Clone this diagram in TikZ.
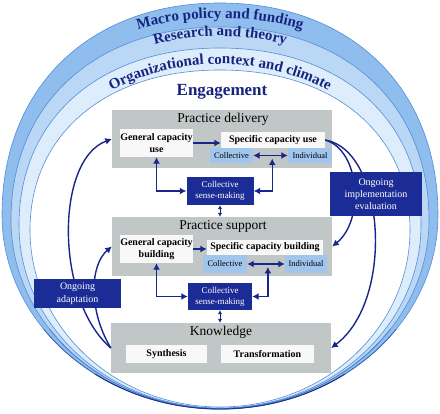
\documentclass[tikz,border=0pt]{standalone}
\usepackage{fontspec}
\setmainfont{Liberation Serif}
\usepackage{xcolor}
\usetikzlibrary{arrows.meta,calc,decorations.text}
\definecolor{ringA}{RGB}{143,189,238}
\definecolor{ringB}{RGB}{186,216,246}
\definecolor{ringC}{RGB}{222,237,252}
\definecolor{ringline}{RGB}{84,140,214}
\definecolor{ringdark}{RGB}{30,50,140}
\definecolor{ringtext}{RGB}{22,36,128}
\definecolor{boxgray}{RGB}{193,199,198}
\definecolor{boxwhite}{RGB}{248,248,248}
\definecolor{tagblue}{RGB}{160,198,238}
\definecolor{navy}{RGB}{28,44,150}
\definecolor{arrownavy}{RGB}{24,38,140}
\newcommand{\ringfont}{\bfseries\fontsize{15}{15}\selectfont}
\tikzset{
	egg/.style n args={4}{insert path={
			(220,#1) .. controls ({220-0.6*#3},#1) and ({220-#3},{#2-0.6*(#2-#1)}) .. ({220-#3},#2)
			.. controls ({220-#3},{#2+0.5523*(#4-#2)}) and ({220-0.5523*#3},#4) .. (220,#4)
			.. controls ({220+0.5523*#3},#4) and ({220+#3},{#2+0.5523*(#4-#2)}) .. ({220+#3},#2)
			.. controls ({220+#3},{#2-0.6*(#2-#1)}) and ({220+0.6*#3},#1) .. (220,#1) -- cycle}},
	ringtextpath/.style={decorate, decoration={text along path, text={|\ringfont|#1},
					text align=center, text color=ringtext}},
	graybox/.style={fill=boxgray, minimum width=220pt, inner sep=0pt},
	boxtitle/.style={font=\fontsize{13.5}{15}\selectfont, anchor=base},
	whitebox/.style={fill=boxwhite, font=\bfseries\fontsize{10}{12.5}\selectfont, align=center, inner sep=0.5pt},
	tagbox/.style={fill=tagblue, font=\fontsize{8.5}{10}\selectfont, inner sep=0.5pt},
	navybox/.style={fill=navy, text=white, align=center, inner sep=1pt},
	conn/.style={draw=arrownavy, line width=1.4pt, >={Latex[length=6.5pt, width=7pt]}},
	shortconn/.style={draw=arrownavy, line width=1pt, >={Latex[length=4pt, width=4.5pt]}}
}

\begin{document}
\begin{tikzpicture}[x=1pt, y=-1pt]
			\useasboundingbox (0,0) rectangle (440,414);

			% rings
			\filldraw[fill=ringA, draw=ringline, line width=0.6pt, egg={3}{215}{218}{409}];
			\filldraw[fill=ringB, draw=ringline, line width=0.6pt, egg={27}{220}{209}{408.5}];
			\filldraw[fill=ringC, draw=ringline, line width=0.6pt, egg={48}{225}{201}{408}];
			\filldraw[fill=white, draw=ringline, line width=0.6pt, egg={70}{230}{190}{407}];
			\begin{scope}
				\clip (0,330) rectangle (440,414);
				\draw[ringline!60!ringdark, line width=0.8pt, egg={3}{215}{218}{409}];
				\draw[ringline!80!ringdark, line width=0.6pt, egg={27}{220}{209}{408.5}];
			\end{scope}
			\begin{scope}
				\clip (0,375) rectangle (440,414);
				\draw[ringdark, line width=0.9pt, egg={3}{215}{218}{409}];
			\end{scope}

			\path[ringtextpath={Macro policy and funding}] (220,318) ++(240:300) arc[start angle=240, end angle=300, radius=300];
			\path[ringtextpath={Research and theory}] (220,286) ++(240:250) arc[start angle=240, end angle=300, radius=250];
			\path[ringtextpath={Organizational context and climate}] (220,297) ++(232:233) arc[start angle=232, end angle=308, radius=233];
			\node[anchor=base, text=ringtext, font=\bfseries\fontsize{17}{17}\selectfont] (eng) at (222,96) {Engagement};

			% practice delivery
			\node[graybox, minimum height=58pt] (delivery) at (222,139) {};
			\node[boxtitle] (deliverytitle) at (223,123) {Practice delivery};
			\node[whitebox, minimum width=73pt, minimum height=28pt] (genuse) at (156.5,143) {General capacity\\use};
			\node[whitebox, minimum width=104pt, minimum height=16pt] (specuse) at (273,140) {Specific capacity use};
			\node[tagbox, minimum width=43pt, minimum height=15pt] (coluse) at (231.5,155.5) {Collective};
			\node[tagbox, minimum width=44pt, minimum height=15pt] (induse) at (310,155.5) {Individual};
			\node[navybox, font=\fontsize{9}{11}\selectfont, minimum width=67pt, minimum height=28pt] (sense1) at (220,191) {Collective\\sense-making};

			% practice support
			\node[graybox, minimum height=59pt] (support) at (222,246.5) {};
			\node[boxtitle] (supporttitle) at (223,230) {Practice support};
			\node[whitebox, minimum width=73pt, minimum height=28pt] (genbuild) at (156.5,249) {General capacity\\building};
			\node[whitebox, minimum width=116pt, minimum height=15pt] (specbuild) at (265,247.5) {Specific capacity building};
			\node[tagbox, minimum width=44pt, minimum height=18pt] (colbuild) at (225,264) {Collective};
			\node[tagbox, minimum width=42pt, minimum height=18pt] (indbuild) at (306,264) {Individual};
			\node[navybox, font=\fontsize{9}{11}\selectfont, minimum width=64pt, minimum height=27pt] (sense2) at (220,296.5) {Collective\\sense-making};

			% knowledge
			\node[graybox, minimum height=50pt] (knowledge) at (221,348) {};
			\node[boxtitle] (knowledgetitle) at (221,336) {Knowledge};
			\node[whitebox, minimum width=81pt, minimum height=18pt] (synth) at (166.5,354) {Synthesis};
			\node[whitebox, minimum width=93pt, minimum height=18pt] (transf) at (267.5,354) {Transformation};

			\coordinate (tagmid1) at ($(coluse.east)!0.55!(induse.west)+(0,3)$);
			\coordinate (tagmid2) at ($(colbuild.east)!0.55!(indbuild.west)+(0,3)$);

			\draw[conn, ->] (genuse.east) -- (genuse.east -| specuse.west);
			\draw[conn, <->] (coluse.east) -- (induse.west);
			\draw[conn, <->] (genuse.south) |- (sense1.west);
			\draw[conn, <->] (sense1.east) -| (tagmid1);
			\draw[shortconn, <->] (sense1.south) -- (sense1.south |- support.north);

			\draw[conn, ->] (genbuild.east) -- (genbuild.east -| specbuild.west);
			\draw[conn, <->] (colbuild.east) -- (indbuild.west);
			\draw[conn, <->] (genbuild.south) |- (sense2.west);
			\draw[conn, <->] (sense2.east) -| (tagmid2);
			\draw[shortconn, <->] (sense2.south) -- (sense2.south |- knowledge.north);

			% feedback loops
			\draw[conn, ->] (knowledge.west) .. controls (55,300) and (55,160) .. (delivery.west);
			\draw[conn, ->] (knowledge.west) .. controls (88,310) and (90,265) .. (support.west);
			\draw[conn, ->] (specuse.east) .. controls (360,150) and (365,220) .. (support.east);
			\draw[conn, ->] (specuse.east) .. controls (385,150) and (395,300) .. (knowledge.east);

			\node[navybox, font=\fontsize{10}{13}\selectfont, minimum width=87pt, minimum height=29pt] (adapt) at (77.5,293.5) {Ongoing\\adaptation};
			\node[navybox, font=\fontsize{10}{12}\selectfont, minimum width=92pt, minimum height=44pt] (evalbox) at (376,194) {Ongoing\\implementation\\evaluation};
		\end{tikzpicture}
\end{document}
